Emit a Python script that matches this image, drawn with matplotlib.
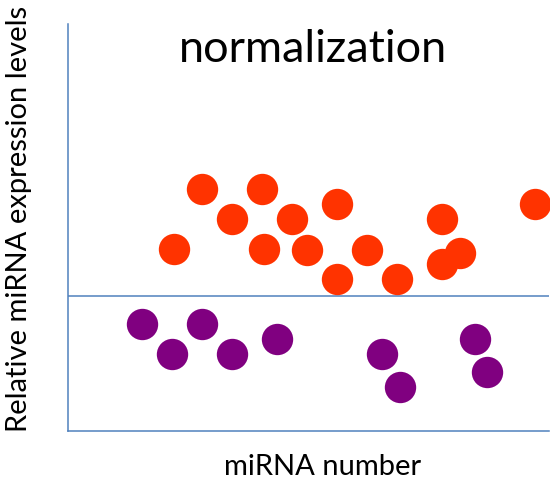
import matplotlib.pyplot as plt

plt.rcParams['font.family'] = ['Lato', 'DejaVu Sans']

# up-regulated miRNAs (above the normalization line)
red_x = [27.9, 40.3, 34.1, 46.6, 22.0, 40.7, 49.6, 55.9, 55.9, 62.1, 68.3, 77.7, 77.7, 81.5, 97.1]
red_y = [59.4, 59.4, 52.1, 52.1, 44.6, 44.6, 44.4, 55.7, 37.3, 44.4, 37.3, 52.1, 41.0, 43.7, 55.7]

# down-regulated miRNAs (below the line)
purple_x = [15.4, 21.6, 27.9, 34.1, 43.5, 65.3, 69.0, 84.6, 87.1]
purple_y = [26.2, 18.9, 26.2, 18.9, 22.5, 18.9, 10.7, 22.5, 14.4]

norm_level = 33.2

fig = plt.figure(figsize=(5.55, 4.82), dpi=100)
ax = fig.add_axes([68 / 555, 1 - 430.7 / 482, 481 / 555, 406.7 / 482])
ax.set_xlim(0, 100)
ax.set_ylim(0, 100)

axis_col = '#4F81BD'
ax.axhline(norm_level, color=axis_col, lw=1.1, zorder=1)
ax.scatter(red_x, red_y, s=510, c='#FF3300', linewidths=0, zorder=3)
ax.scatter(purple_x, purple_y, s=510, c='#800080', linewidths=0, zorder=3)

for side in ['top', 'right']:
    ax.spines[side].set_visible(False)
for side in ['left', 'bottom']:
    ax.spines[side].set_color(axis_col)
    ax.spines[side].set_linewidth(1.1)
ax.set_xticks([])
ax.set_yticks([])

fig.text(313 / 555, 1 - 50 / 482, 'normalization', fontsize=32.5, ha='center', va='center')
fig.text(322.5 / 555, 1 - 467 / 482, 'miRNA number', fontsize=21, ha='center', va='center')
fig.text(19 / 555, 1 - 218.5 / 482, 'Relative miRNA expression levels', fontsize=21,
         rotation=90, ha='center', va='center')

fig.savefig('out.png', dpi=100)
